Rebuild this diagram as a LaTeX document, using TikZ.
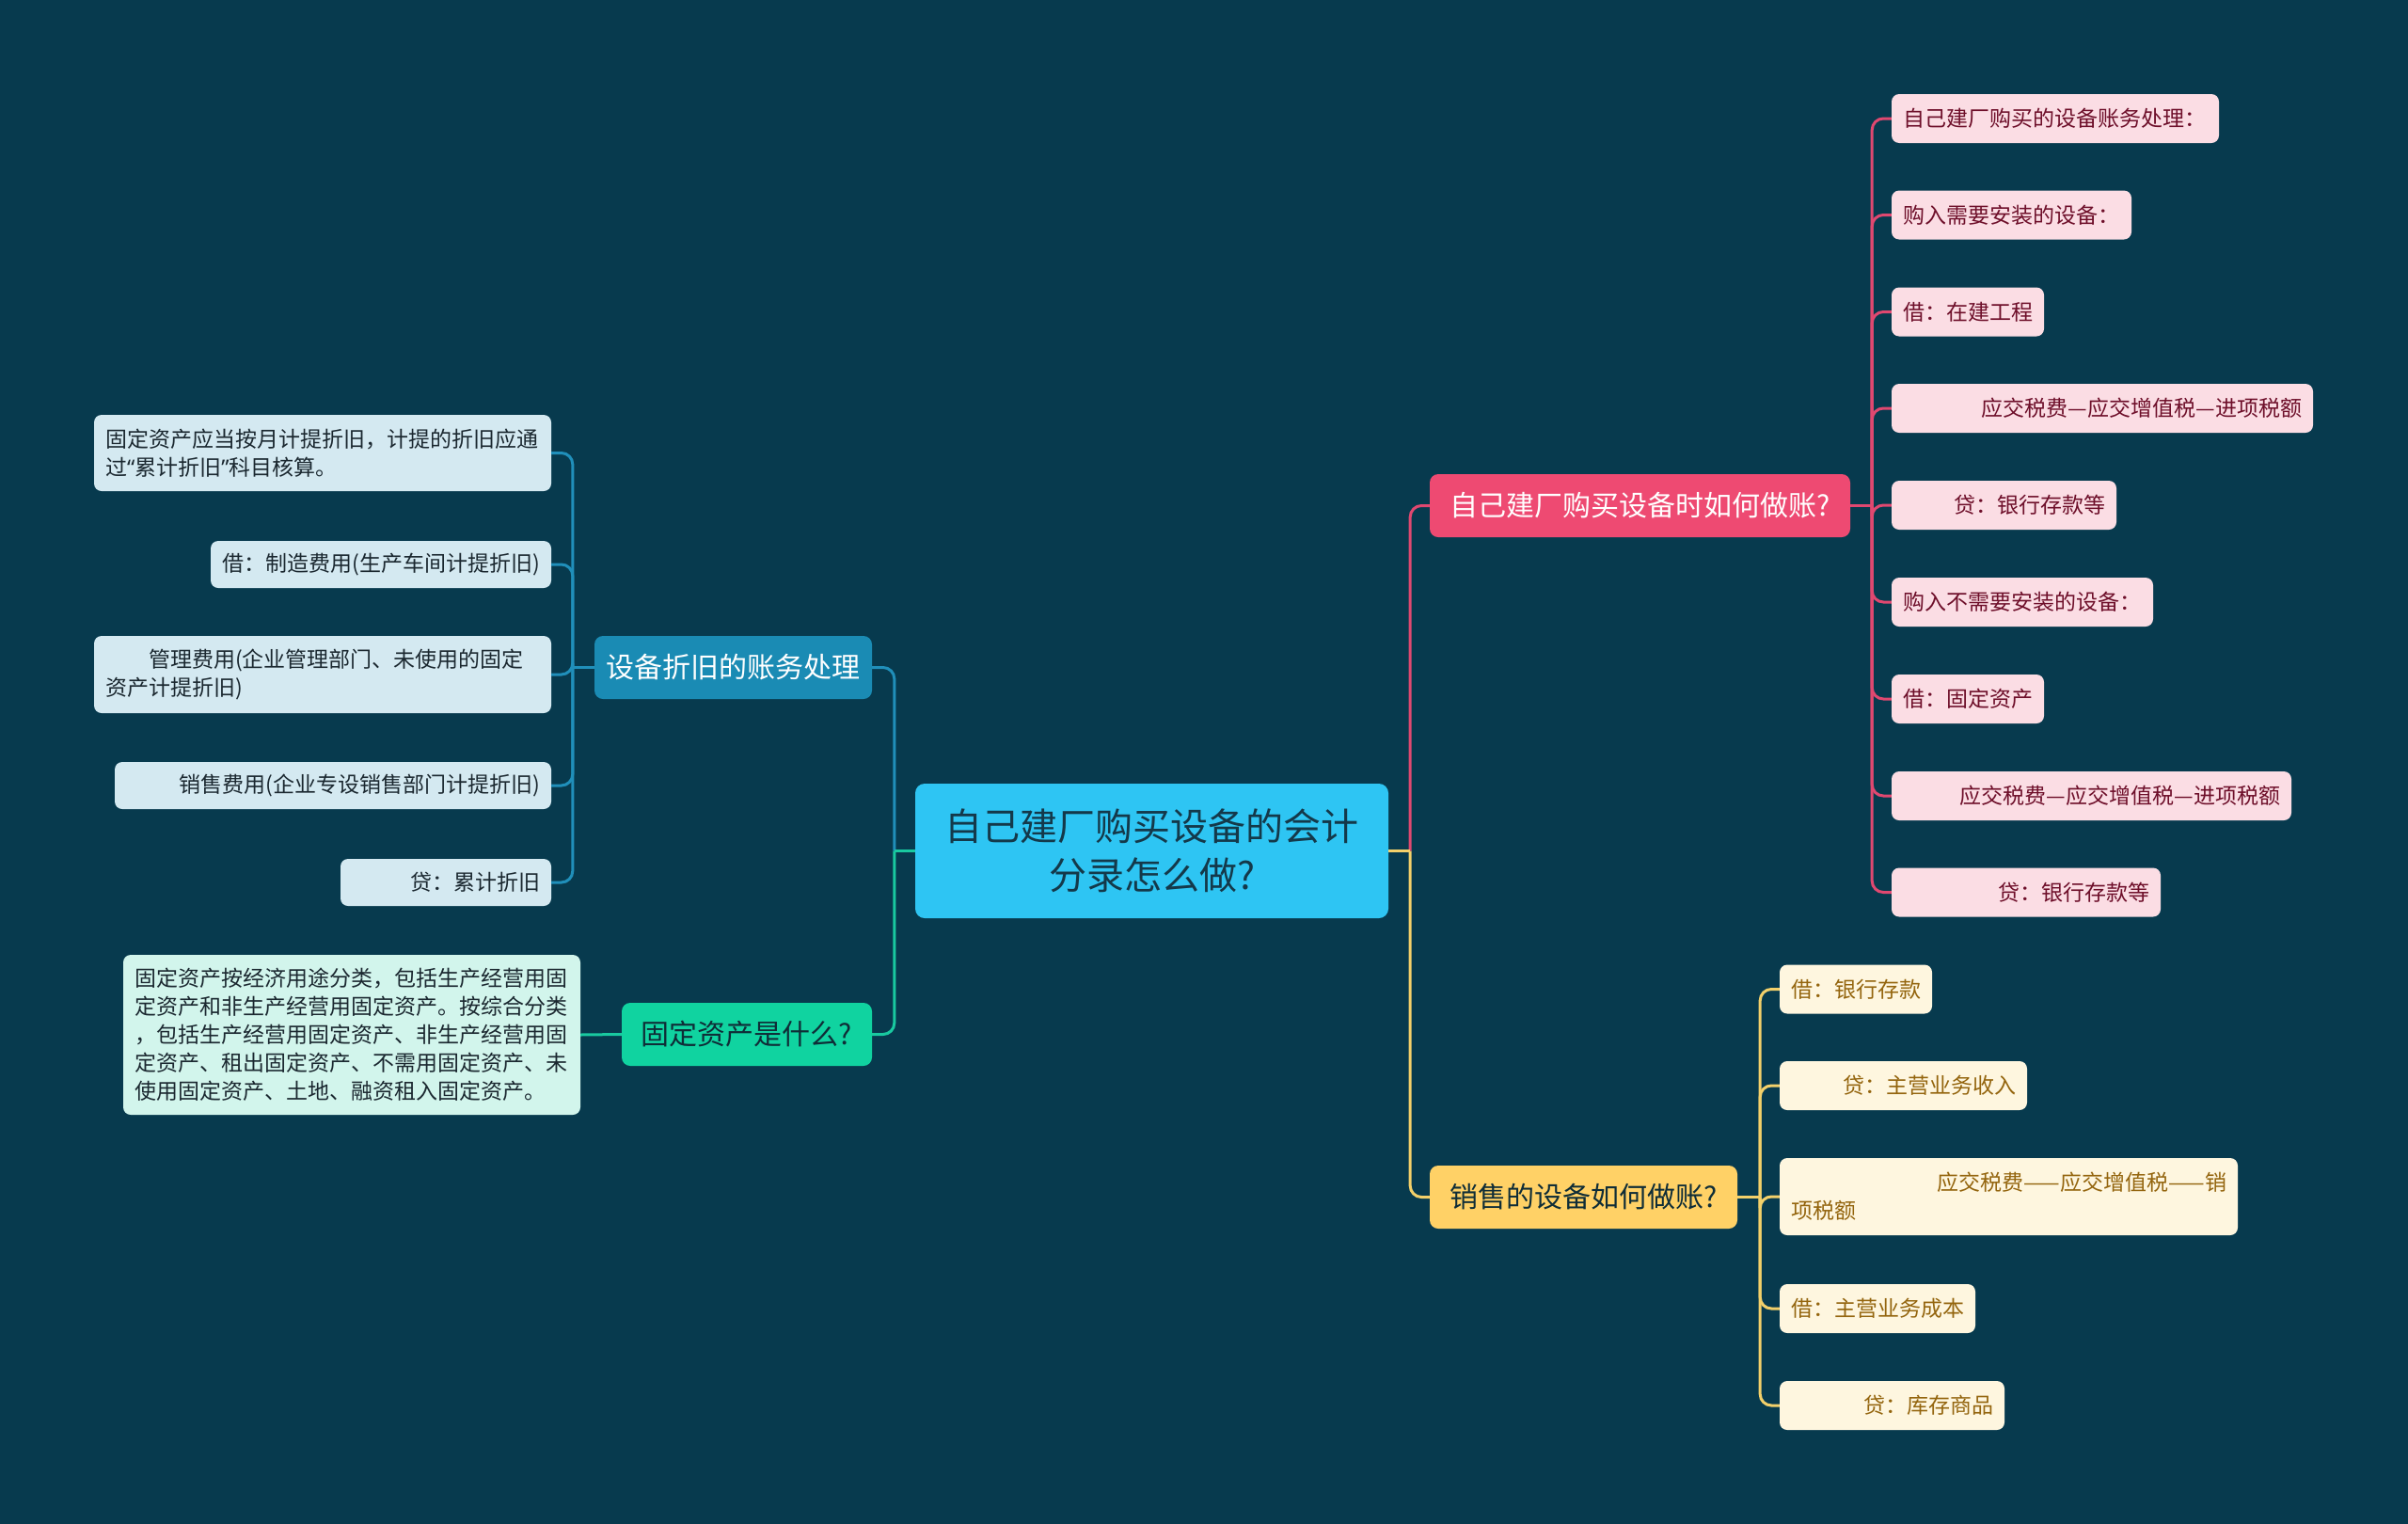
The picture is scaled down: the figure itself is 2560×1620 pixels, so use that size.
\documentclass[tikz,border=0pt]{standalone}
\usepackage{fontspec}
\setmainfont{Noto Sans CJK SC}
\newfontfamily\latinq{Noto Sans}
\definecolor{bg}{RGB}{7,58,78}
\definecolor{cmain}{RGB}{46,197,243}
\definecolor{cmaint}{RGB}{20,57,74}
\definecolor{cblue}{RGB}{26,139,180}
\definecolor{cgreen}{RGB}{16,211,160}
\definecolor{cpink}{RGB}{238,74,114}
\definecolor{cyel}{RGB}{255,209,102}
\definecolor{lblue}{RGB}{32,143,186}
\definecolor{lgreen}{RGB}{25,201,160}
\definecolor{lpink}{RGB}{224,72,112}
\definecolor{lyel}{RGB}{243,208,106}
\definecolor{bleafc}{RGB}{212,233,241}
\definecolor{bleaft}{RGB}{27,40,48}
\definecolor{gleafc}{RGB}{210,245,236}
\definecolor{pleafc}{RGB}{251,221,228}
\definecolor{pleaft}{RGB}{110,15,42}
\definecolor{yleafc}{RGB}{254,246,223}
\definecolor{yleaft}{RGB}{148,101,14}
\definecolor{darkt}{RGB}{15,45,55}
\tikzset{
  leaf/.style={rounded corners=8pt, inner xsep=12pt, inner ysep=0pt,
    font=\fontsize{23}{30}\selectfont, minimum height=52pt},
  bleaf/.style={leaf, fill=bleafc, text=bleaft},
  gleaf/.style={leaf, fill=gleafc, text=bleaft},
  pleaf/.style={leaf, fill=pleafc, text=pleaft},
  yleaf/.style={leaf, fill=yleafc, text=yleaft},
  branch/.style={rounded corners=9pt, inner xsep=0pt, inner ysep=0pt,
    font=\fontsize{30}{36}\selectfont, minimum height=67pt, align=center},
  conn/.style={line width=3pt, rounded corners=12pt},
}
\begin{document}
\begin{tikzpicture}[x=1pt,y=-1pt]
\fill[bg] (0,0) rectangle (2560,1620);
\useasboundingbox (0,0) rectangle (2560,1620);

% center
\node[rounded corners=10pt, fill=cmain, text=cmaint, minimum width=503pt, minimum height=143pt,
  inner sep=0pt, align=center, font=\fontsize{40}{52}\selectfont] (C) at (1224.5,904.5)
  {自己建厂购买设备的会计\\分录怎么做?};

% branches
\node[branch, fill=cblue, text=white, minimum width=295pt] (B1) at (779.5,709.5) {设备折旧的账务处理};
\node[branch, fill=cgreen, text=darkt, minimum width=266pt] (B2) at (794,1099.5) {固定资产是什么?};
\node[branch, fill=cpink, text=white, minimum width=447pt] (R1) at (1743.5,537.5) {自己建厂购买设备时如何做账?};
\node[branch, fill=cyel, text=darkt, minimum width=327pt] (R2) at (1683.5,1272.5) {销售的设备如何做账?};

% blue leaves
\node[bleaf, text width=462pt, align=left, minimum height=81pt] (L1) at (343,481.5)
  {固定资产应当按月计提折旧，计提的折旧应通\\过{\latinq “}累计折旧{\latinq ”}科目核算。};
\node[bleaf, text width=338pt, align=right, minimum height=50pt] (L2) at (405,600)
  {借：制造费用(生产车间计提折旧)};
\node[bleaf, text width=462pt, align=left, minimum height=82pt] (L3) at (343,717)
  {\hspace*{46pt}管理费用(企业管理部门、未使用的固定\\资产计提折旧)};
\node[bleaf, text width=440pt, align=right, minimum height=50pt] (L4) at (354,835)
  {销售费用(企业专设销售部门计提折旧)};
\node[bleaf, text width=200pt, align=right, minimum height=50pt] (L5) at (474,938)
  {贷：累计折旧};

% green leaf
\node[gleaf, text width=462pt, align=left, minimum height=170pt] (M) at (374,1100)
  {固定资产按经济用途分类，包括生产经营用固\\定资产和非生产经营用固定资产。按综合分类\\，包括生产经营用固定资产、非生产经营用固\\定资产、租出固定资产、不需用固定资产、未\\使用固定资产、土地、融资租入固定资产。};

% pink leaves
\node[pleaf, text width=324pt, align=left] (P1) at (2185,126) {自己建厂购买的设备账务处理：};
\node[pleaf, text width=231pt, align=left] (P2) at (2138.5,228.5) {购入需要安装的设备：};
\node[pleaf, text width=138pt, align=left] (P3) at (2092,331.5) {借：在建工程};
\node[pleaf, text width=424pt, align=right] (P4) at (2235,434) {应交税费—应交增值税—进项税额};
\node[pleaf, text width=215pt, align=right] (P5) at (2130.5,537) {贷：银行存款等};
\node[pleaf, text width=254pt, align=left] (P6) at (2150,640) {购入不需要安装的设备：};
\node[pleaf, text width=138pt, align=left] (P7) at (2092,743) {借：固定资产};
\node[pleaf, text width=401pt, align=right] (P8) at (2223.5,846) {应交税费—应交增值税—进项税额};
\node[pleaf, text width=262pt, align=right] (P9) at (2154,948.5) {贷：银行存款等};

% yellow leaves
\node[yleaf, text width=138pt, align=left] (Y1) at (1973,1051.5) {借：银行存款};
\node[yleaf, text width=239pt, align=right] (Y2) at (2023.5,1154) {贷：主营业务收入};
\node[yleaf, text width=463pt, align=left, minimum height=82pt] (Y3) at (2135.5,1272)
  {\hfill 应交税费——应交增值税——销\\项税额};
\node[yleaf, text width=184pt, align=left] (Y4) at (1996,1391) {借：主营业务成本};
\node[yleaf, text width=215pt, align=right] (Y5) at (2011.5,1494) {贷：库存商品};

% junctions
\coordinate (jc) at ([xshift=-22pt]C.west);
\coordinate (jr) at ([xshift=23pt]C.east);
\coordinate (jb) at ([xshift=-23pt]B1.west);
\coordinate (jp) at ([xshift=23pt]R1.east);
\coordinate (jy) at ([xshift=24pt]R2.east);

% center connectors
\draw[conn, lblue] (jc) |- (B1.east);
\draw[conn, lgreen] (jc) |- (B2.east);
\draw[conn, lgreen] (C.west) -- (jc);
\draw[conn, lpink] (jr) |- (R1.west);
\draw[conn, lyel] (jr) |- (R2.west);
\draw[conn, lyel] (C.east) -- (jr);

% blue connectors
\draw[conn, lblue] (B1.west) -- (jb);
\foreach \n in {L1,L2,L3,L4,L5} \draw[conn, lblue] (jb) |- (\n.east);

% green connector
\draw[conn, lgreen] (B2.west) -- (M.east);

% pink connectors
\draw[conn, lpink] (R1.east) -- (jp);
\foreach \n in {P1,P2,P3,P4,P5,P6,P7,P8,P9} \draw[conn, lpink] (jp) |- (\n.west);

% yellow connectors
\draw[conn, lyel] (R2.east) -- (jy);
\foreach \n in {Y1,Y2,Y3,Y4,Y5} \draw[conn, lyel] (jy) |- (\n.west);
\end{tikzpicture}
\end{document}
